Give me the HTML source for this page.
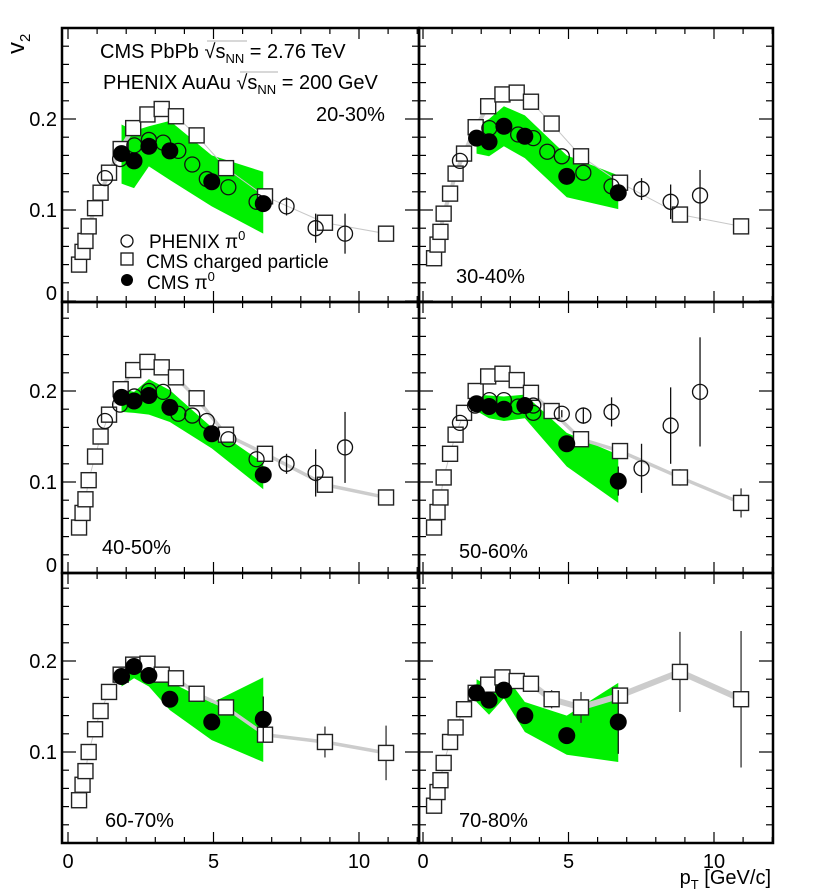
<!DOCTYPE html>
<html><head><meta charset="utf-8">
<style>
html,body{margin:0;padding:0;background:#fff;}
svg{display:block;font-family:"Liberation Sans",sans-serif;}
</style></head>
<body>
<svg id="chart" width="830" height="893" viewBox="0 0 830 893" xmlns="http://www.w3.org/2000/svg">
<g id="layer"></g>
</svg>
<script>
// ---------- data ----------
const panelNames = ["20-30%","30-40%","40-50%","50-60%","60-70%","70-80%"];
const chargedPt = [0.38,0.5,0.6,0.71,0.93,1.12,1.41,1.81,2.24,2.73,3.22,3.71,4.42,5.43,6.77,8.83,10.93];
const chargedV2_2030 = [0.040,0.054,0.066,0.082,0.102,0.119,0.141,0.167,0.190,0.205,0.211,0.203,0.182,0.146,0.115,0.086,0.074];
const chargedV2_3040 = [0.047,0.062,0.076,0.096,0.118,0.140,0.162,0.191,0.214,0.227,0.229,0.219,0.195,0.159,0.130,0.095,0.082];
const chargedV2_4050 = [0.050,0.066,0.081,0.102,0.128,0.150,0.174,0.202,0.223,0.232,0.226,0.215,0.192,0.152,0.131,0.097,0.083];
const chargedV2_5060 = [0.050,0.067,0.083,0.105,0.131,0.152,0.176,0.200,0.216,0.219,0.212,0.198,0.178,0.147,0.134,0.105,0.077];
const chargedV2_6070 = [0.047,0.064,0.079,0.100,0.125,0.145,0.166,0.185,0.196,0.197,0.185,0.181,0.164,0.149,0.119,0.111,0.099];
const chargedV2_7080 = [0.041,0.056,0.069,0.088,0.111,0.127,0.147,0.165,0.174,0.182,0.178,0.175,0.158,0.149,0.162,0.188,0.158];
const chargedErr_5060 = [0,0,0,0,0,0,0,0,0,0,0,0,0,0,0,0.009,0.016];
const chargedErr_6070 = [0,0,0,0,0,0,0,0,0,0,0,0,0,0,0,0.017,0.030];
const chargedErr_7080 = [0,0,0,0,0,0,0,0,0,0,0,0.006,0.010,0.017,0,0.044,0.075];

const phenixPt = [1.27,1.79,2.28,2.78,3.27,3.79,4.27,4.77,5.51,6.48,7.51,8.51,9.52];
const phenixV2_2030 = [0.135,0.156,0.171,0.177,0.174,0.165,0.150,0.134,0.125,0.109,0.104,0.080,0.074];
const phenixV2_3040 = [0.154,0.190,0.183,0.179,0.164,0.159,0.141,0.126,0.123,0.109,0.116];
const phenixPt_3040 = [1.27,2.28,3.27,3.79,4.27,4.77,5.51,6.48,7.51,8.51,9.52];
const phenixV2_4050 = [0.167,0.185,0.194,0.200,0.199,0.175,0.173,0.167,0.147,0.125,0.120,0.110,0.138];
const phenixV2_5060 = [0.165,0.184,0.190,0.190,0.183,0.176,0.184,0.175,0.173,0.177,0.115,0.162,0.199];
const phenixPt_5060 = [1.27,1.79,2.28,2.78,3.27,3.79,3.79,4.77,5.51,6.48,7.51,8.51,9.52];
const phenixErr_2030 = [0,0,0,0,0,0,0,0,0,0,0.010,0.016,0.022];
const phenixErr_3040 = [0,0,0,0,0,0,0,0,0.012,0.019,0.028];
const phenixErr_4050 = [0,0,0,0,0,0,0,0,0,0,0.011,0.026,0.039];
const phenixErr_5060 = [0,0,0,0,0,0,0,0.004,0.009,0.016,0.027,0.042,0.060];

const pi0Pt = [1.84,2.27,2.78,3.5,4.94,6.71];
const pi0V2_2030 = [0.162,0.154,0.170,0.165,0.131,0.107];
const pi0V2_3040 = [0.179,0.175,0.192,0.181,0.137,0.119];
const pi0V2_4050 = [0.193,0.189,0.195,0.182,0.153,0.108];
const pi0V2_5060 = [0.186,0.183,0.180,0.184,0.142,0.101];
const pi0V2_6070 = [0.183,0.194,0.184,0.158,0.133,0.136];
const pi0V2_7080 = [0.165,0.157,0.168,0.140,0.118,0.133];
const pi0Err_5060 = [0,0,0,0,0,0.016];
const pi0Err_6070 = [0,0,0,0,0,0.025];
const pi0Err_7080 = [0,0,0,0,0,0.035];

const bandHi_2030 = [0.194,0.187,0.192,0.198,0.160,0.142];
const bandLo_2030 = [0.129,0.124,0.148,0.133,0.104,0.074];
const bandHi_3040 = [0.193,0.200,0.214,0.204,0.160,0.138];
const bandLo_3040 = [0.162,0.159,0.170,0.157,0.114,0.101];
const bandHi_4050 = [0.202,0.199,0.213,0.201,0.160,0.121];
const bandLo_4050 = [0.177,0.176,0.174,0.166,0.137,0.092];
const bandHi_5060 = [0.196,0.195,0.194,0.196,0.154,0.130];
const bandLo_5060 = [0.178,0.170,0.167,0.170,0.117,0.077];
const bandHi_6070 = [0.190,0.205,0.196,0.177,0.154,0.182];
const bandLo_6070 = [0.172,0.181,0.172,0.146,0.113,0.089];
const bandHi_7080 = [0.180,0.172,0.186,0.155,0.140,0.176];
const bandLo_7080 = [0.155,0.141,0.159,0.122,0.097,0.089];

const xTickLabels = ["0","5","10"];
const yTickLabels = ["0","0.1","0.2"];

// ---------- layout ----------
const NS = "http://www.w3.org/2000/svg";
const layer = document.getElementById("layer");
const cols = [{fx0:62, fx1:419, x0:68},{fx0:419, fx1:773, x0:423}];
const rows = [{fy0:28, fy1:302, y0:301},{fy0:302, fy1:573, y0:573},{fy0:573, fy1:843, y0:843}];
const XS = 29.1, YS = 910;

function el(tag, attrs, parent){
  const e = document.createElementNS(NS, tag);
  for (const k in attrs) e.setAttribute(k, attrs[k]);
  (parent||layer).appendChild(e);
  return e;
}

const panels = [
  {c:0,r:0,ch:chargedV2_2030,chE:null,ph:phenixV2_2030,phPt:phenixPt,phE:phenixErr_2030,pi:pi0V2_2030,piE:null,hi:bandHi_2030,lo:bandLo_2030,thick:false,lab:[316,121]},
  {c:1,r:0,ch:chargedV2_3040,chE:null,ph:phenixV2_3040,phPt:phenixPt_3040,phE:phenixErr_3040,pi:pi0V2_3040,piE:null,hi:bandHi_3040,lo:bandLo_3040,thick:false,lab:[456,283]},
  {c:0,r:1,ch:chargedV2_4050,chE:null,ph:phenixV2_4050,phPt:phenixPt,phE:phenixErr_4050,pi:pi0V2_4050,piE:null,hi:bandHi_4050,lo:bandLo_4050,thick:true,lab:[102,554]},
  {c:1,r:1,ch:chargedV2_5060,chE:chargedErr_5060,ph:phenixV2_5060,phPt:phenixPt_5060,phE:phenixErr_5060,pi:pi0V2_5060,piE:pi0Err_5060,hi:bandHi_5060,lo:bandLo_5060,thick:true,lab:[459,558]},
  {c:0,r:2,ch:chargedV2_6070,chE:chargedErr_6070,ph:null,pi:pi0V2_6070,piE:pi0Err_6070,hi:bandHi_6070,lo:bandLo_6070,thick:true,lab:[105,827]},
  {c:1,r:2,ch:chargedV2_7080,chE:chargedErr_7080,ph:null,pi:pi0V2_7080,piE:pi0Err_7080,hi:bandHi_7080,lo:bandLo_7080,thick:true,lab:[459,827]}
];

panels.forEach((p, i) => {
  const C = cols[p.c], R = rows[p.r];
  const xs = v => C.x0 + v*XS;
  const ys = v => R.y0 - v*YS;
  const g = el("g", {});
  
  
  const clipId = "clip"+i;
  const cp = el("clipPath", {id:clipId}, g);
  el("rect", {x:C.fx0, y:R.fy0, width:C.fx1-C.fx0, height:R.fy1-R.fy0}, cp);
  const inner = el("g", {"clip-path":"url(#"+clipId+")"}, g);

  let pts = pi0Pt.map((x,k)=>xs(x)+","+ys(p.hi[k]));
  pts = pts.concat(pi0Pt.slice().reverse().map((x,k)=>xs(x)+","+ys(p.lo[p.lo.length-1-k])));
  const band = el("polygon", {points:pts.join(" "), fill:"#00f000", stroke:"none"}, inner);
  
  

  const linePts = chargedPt.map((x,k)=>xs(x)+","+ys(p.ch[k]));
  const thin = el("polyline", {points:linePts.join(" "), fill:"none", stroke:"#c8c8c8", "stroke-width":1}, inner);
  
  
  if (p.thick) {
    el("polyline", {points:linePts.slice(7).join(" "), fill:"none", stroke:"#cccccc", "stroke-width": p.r===2&&p.c===1?6:3.5, "stroke-linejoin":"round"}, inner);
  } else {
    el("polyline", {points:linePts.slice(1,9).join(" "), fill:"none", stroke:"#cccccc", "stroke-width":4, "stroke-linejoin":"round"}, inner);
  }

  chargedPt.forEach((x,k)=>{
    const cx = xs(x), cy = ys(p.ch[k]);
    if (p.chE && p.chE[k]) el("line",{x1:cx,x2:cx,y1:ys(p.ch[k]+p.chE[k]),y2:ys(p.ch[k]-p.chE[k]),stroke:"#333","stroke-width":1.3},inner);
    const s = el("rect",{x:cx-7.5,y:cy-7.5,width:15,height:15,fill:"#fff",stroke:"#222","stroke-width":1.4},inner);
    
    
  });
  if (p.ph) p.phPt.forEach((x,k)=>{
    const cx = xs(x), cy = ys(p.ph[k]);
    if (p.phE[k]) el("line",{x1:cx,x2:cx,y1:ys(p.ph[k]+p.phE[k]),y2:ys(p.ph[k]-p.phE[k]),stroke:"#111","stroke-width":1.3},inner);
    const c = el("circle",{cx:cx,cy:cy,r:7.5,fill:"none",stroke:"#111","stroke-width":1.3},inner);
    
    
  });
  pi0Pt.forEach((x,k)=>{
    const cx = xs(x), cy = ys(p.pi[k]);
    if (p.piE && p.piE[k]) el("line",{x1:cx,x2:cx,y1:ys(p.pi[k]+p.piE[k]),y2:ys(p.pi[k]-p.piE[k]),stroke:"#111","stroke-width":1.3},inner);
    const c = el("circle",{cx:cx,cy:cy,r:8.5,fill:"#000"},inner);
    
    
  });

  for (let t=0; t<=12; t++){
    const x = xs(t), L = t%5===0?11:6;
    el("line",{x1:x,x2:x,y1:R.fy1,y2:R.fy1-L,stroke:"#000","stroke-width":1.2},g);
    el("line",{x1:x,x2:x,y1:R.fy0,y2:R.fy0+L,stroke:"#000","stroke-width":1.2},g);
  }
  for (let t=0; t<=15; t++){
    const y = ys(t*0.02); if (y < R.fy0-0.5) continue;
    const L = (t%5===0)?14:7;
    el("line",{x1:C.fx0,x2:C.fx0+L,y1:y,y2:y,stroke:"#000","stroke-width":1.2},g);
    el("line",{x1:C.fx1,x2:C.fx1-L,y1:y,y2:y,stroke:"#000","stroke-width":1.2},g);
  }
  const fr = el("rect",{x:C.fx0,y:R.fy0,width:C.fx1-C.fx0,height:R.fy1-R.fy0,fill:"none",stroke:"#000","stroke-width":2.5},g);
  
  

  if (p.c===0){
    yTickLabels.forEach((lab,k)=>{
      if (p.r===2 && k===0) return;
      let y = ys(k*0.1)+7; if (k===0) y -= 8;
      const t = el("text",{x:57,y:y,"text-anchor":"end","font-size":20},g);
      t.textContent = lab;
      
      
    });
  }
  if (p.r===2){
    xTickLabels.forEach((lab,k)=>{
      const t = el("text",{x:xs(k*5),y:868,"text-anchor":"middle","font-size":20},g);
      t.textContent = lab;
      
      
    });
  }
  const cl = el("text",{x:p.lab[0],y:p.lab[1],"font-size":20},g);
  cl.textContent = panelNames[i];
  
  
});
</script>
<svg width="830" height="893" style="position:absolute;left:0;top:0" xmlns="http://www.w3.org/2000/svg" font-family="Liberation Sans, sans-serif">
  <text transform="translate(24,54) rotate(-90)" font-size="24">v<tspan font-size="15" dy="6">2</tspan></text>
  <text x="771" y="884" text-anchor="end" font-size="20">p<tspan font-size="13" dy="5">T</tspan><tspan dy="-5"> [GeV/c]</tspan></text>
  <g>
    <text x="100" y="58" font-size="20">CMS PbPb √s<tspan font-size="13" dy="5">NN</tspan><tspan dy="-5"> = 2.76 TeV</tspan></text>
    <line x1="207" y1="41" x2="247" y2="41" stroke="#999" stroke-width="0.8"/>
  </g>
  <g>
    <text x="103" y="89" font-size="20">PHENIX AuAu √s<tspan font-size="13" dy="5">NN</tspan><tspan dy="-5"> = 200 GeV</tspan></text>
    <line x1="240" y1="72" x2="278" y2="72" stroke="#999" stroke-width="0.8"/>
  </g>
  <g>
    <circle cx="127" cy="241" r="6" fill="none" stroke="#111" stroke-width="1.3"/>
    <text x="149" y="248" font-size="19">PHENIX π<tspan font-size="13" dy="-8">0</tspan></text>
    <rect x="121" y="253" width="12" height="12" fill="#fff" stroke="#111" stroke-width="1.3"/>
    <text x="146" y="268" font-size="19">CMS charged particle</text>
    <circle cx="127" cy="280" r="6" fill="#000"/>
    <text x="147" y="289" font-size="19">CMS π<tspan font-size="13" dy="-8">0</tspan></text>
  </g>
</svg>
</body></html>
